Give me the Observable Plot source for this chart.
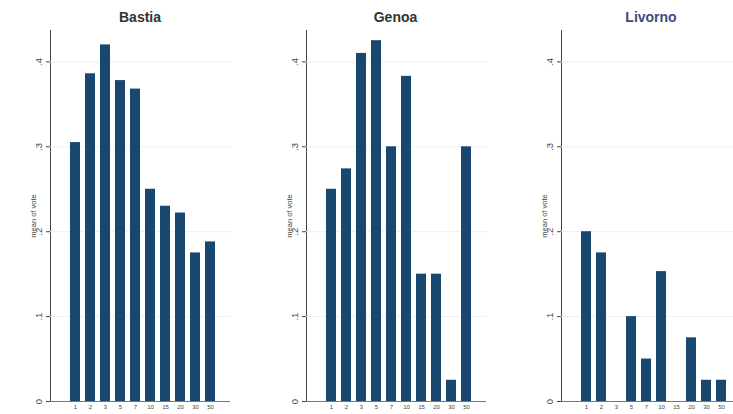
<!DOCTYPE html>
<html>
<head>
<meta charset="utf-8">
<script src="https://cdn.jsdelivr.net/npm/d3@7"></script>
<script src="https://cdn.jsdelivr.net/npm/@observablehq/plot@0.6"></script>
<style>
  html, body { margin: 0; padding: 0; background: #fff; }
  #wrap { position: relative; width: 733px; height: 414px; overflow: hidden; font-family: "Liberation Sans", Arial, sans-serif; }
  .panel { position: absolute; top: 0; width: 255px; height: 414px; }
  .ttl { position: absolute; top: 9px; left: 50px; width: 180px; text-align: center; font-weight: bold; font-size: 14px; color: #333; }
  g[aria-label="y-axis tick label"] { font-size: 9.5px; }
  g[aria-label="x-axis tick label"] { font-size: 6px; }
</style>
</head>
<body>
<div id="wrap"></div>
<script>
const categories = ["1", "2", "3", "5", "7", "10", "15", "20", "30", "50"];
const cities = ["Bastia", "Genoa", "Livorno"];
const bastia  = [0.305, 0.386, 0.420, 0.378, 0.368, 0.250, 0.230, 0.222, 0.175, 0.188];
const genoa   = [0.250, 0.274, 0.410, 0.425, 0.300, 0.383, 0.150, 0.150, 0.025, 0.300];
const livorno = [0.200, 0.175, 0.000, 0.100, 0.050, 0.153, 0.000, 0.075, 0.025, 0.025];
const yTicks = [0, 0.1, 0.2, 0.3, 0.4];
const titleColors = ["#333333", "#333333", "#3d4a82"];
const seriesList = [bastia, genoa, livorno];

const wrap = document.getElementById("wrap");
seriesList.forEach((vals, i) => {
  const data = categories.map((c, j) => ({cat: c, vote: vals[j]}));
  const panel = document.createElement("div");
  panel.className = "panel";
  panel.style.left = (i * 255.5) + "px";
  const ttl = document.createElement("div");
  ttl.className = "ttl";
  ttl.textContent = cities[i];
  ttl.style.color = titleColors[i];
  const chart = Plot.plot({
    width: 255,
    height: 414,
    marginLeft: 50,
    marginRight: 25,
    marginTop: 30,
    marginBottom: 13,
    style: {fontFamily: "Liberation Sans, Arial, sans-serif", fontSize: "7.5px", color: "#444", background: "transparent"},
    x: {domain: categories, padding: 0.35, insetLeft: 12.6, insetRight: 8, label: null, tickSize: 0, tickPadding: 3},
    y: {domain: [0, 0.437], ticks: yTicks, tickFormat: d => d === 0 ? "0" : "." + Math.round(d * 10), tickRotate: -90, tickSize: 4, tickPadding: 5, line: true,
        label: "mean of vote", labelArrow: "none", labelAnchor: "center", labelOffset: 20},
    marks: [
      Plot.gridY(yTicks.slice(1), {stroke: "#e9f0f3", strokeOpacity: 1}),
      Plot.barY(data, {x: "cat", y: "vote", fill: "#1a476f"}),
      Plot.ruleY([0], {stroke: "#777"})
    ]
  });
  panel.appendChild(chart);
  panel.appendChild(ttl);
  wrap.appendChild(panel);
});
</script>
</body>
</html>
